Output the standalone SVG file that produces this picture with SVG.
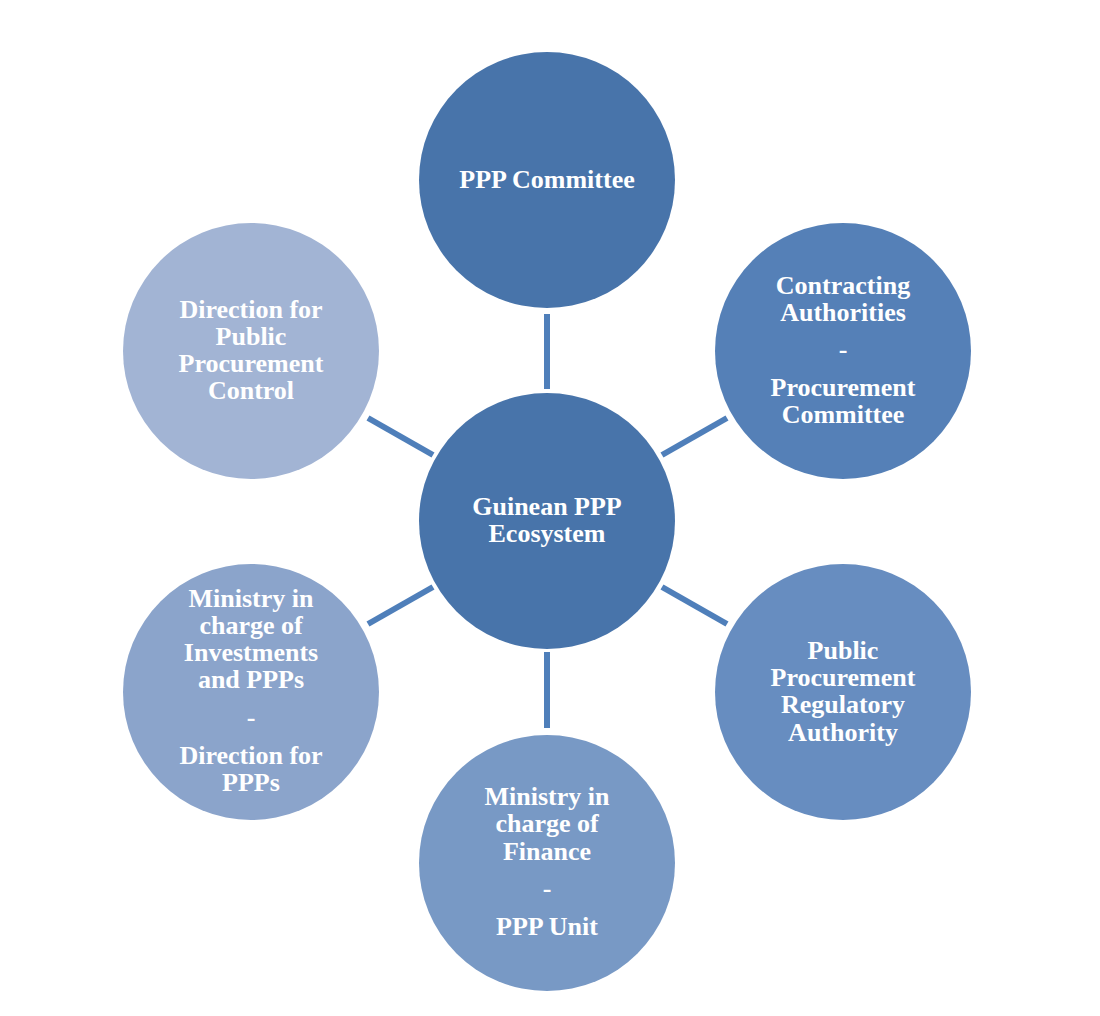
<svg xmlns="http://www.w3.org/2000/svg" width="1100" height="1016" viewBox="0 0 1100 1016">
<style>
.t{font-family:"Liberation Serif","Times New Roman",serif;font-weight:bold;font-size:26px;fill:#ffffff;text-anchor:middle}
.c{stroke:#4F7FBA;stroke-width:6;fill:none}
</style>
<rect width="1100" height="1016" fill="#ffffff"/>
<g id="connectors">
<line class="c" x1="547" y1="314" x2="547" y2="389"/>
<line class="c" x1="547" y1="652" x2="547" y2="728"/>
<line class="c" x1="368" y1="418" x2="433" y2="455"/>
<line class="c" x1="662" y1="455" x2="727" y2="418"/>
<line class="c" x1="368" y1="624" x2="433" y2="587"/>
<line class="c" x1="662" y1="587" x2="727" y2="624"/>
</g>
<g id="center">
<circle cx="547" cy="521" r="128" fill="#4874AA"/>
<text class="t" x="547" y="515">Guinean PPP</text>
<text class="t" x="547" y="542">Ecosystem</text>
</g>
<g id="ppp-committee">
<circle cx="547" cy="180" r="128" fill="#4874AA"/>
<text class="t" x="547" y="188">PPP Committee</text>
</g>
<g id="contracting-authorities">
<circle cx="843" cy="351" r="128" fill="#5580B7"/>
<text class="t" x="843" y="294">Contracting</text>
<text class="t" x="843" y="321">Authorities</text>
<text class="t" x="843" y="358">-</text>
<text class="t" x="843" y="396">Procurement</text>
<text class="t" x="843" y="423">Committee</text>
</g>
<g id="regulatory-authority">
<circle cx="843" cy="692" r="128" fill="#678DC0"/>
<text class="t" x="843" y="659">Public</text>
<text class="t" x="843" y="686">Procurement</text>
<text class="t" x="843" y="713">Regulatory</text>
<text class="t" x="843" y="741">Authority</text>
</g>
<g id="ministry-finance">
<circle cx="547" cy="863" r="128" fill="#7899C5"/>
<text class="t" x="547" y="805">Ministry in</text>
<text class="t" x="547" y="832">charge of</text>
<text class="t" x="547" y="860">Finance</text>
<text class="t" x="547" y="897">-</text>
<text class="t" x="547" y="935">PPP Unit</text>
</g>
<g id="ministry-investments">
<circle cx="251" cy="692" r="128" fill="#8BA4CB"/>
<text class="t" x="251" y="607">Ministry in</text>
<text class="t" x="251" y="634">charge of</text>
<text class="t" x="251" y="661">Investments</text>
<text class="t" x="251" y="688">and PPPs</text>
<text class="t" x="251" y="726">-</text>
<text class="t" x="251" y="764">Direction for</text>
<text class="t" x="251" y="791">PPPs</text>
</g>
<g id="direction-control">
<circle cx="251" cy="351" r="128" fill="#A2B4D4"/>
<text class="t" x="251" y="318">Direction for</text>
<text class="t" x="251" y="345">Public</text>
<text class="t" x="251" y="372">Procurement</text>
<text class="t" x="251" y="399">Control</text>
</g>
</svg>
